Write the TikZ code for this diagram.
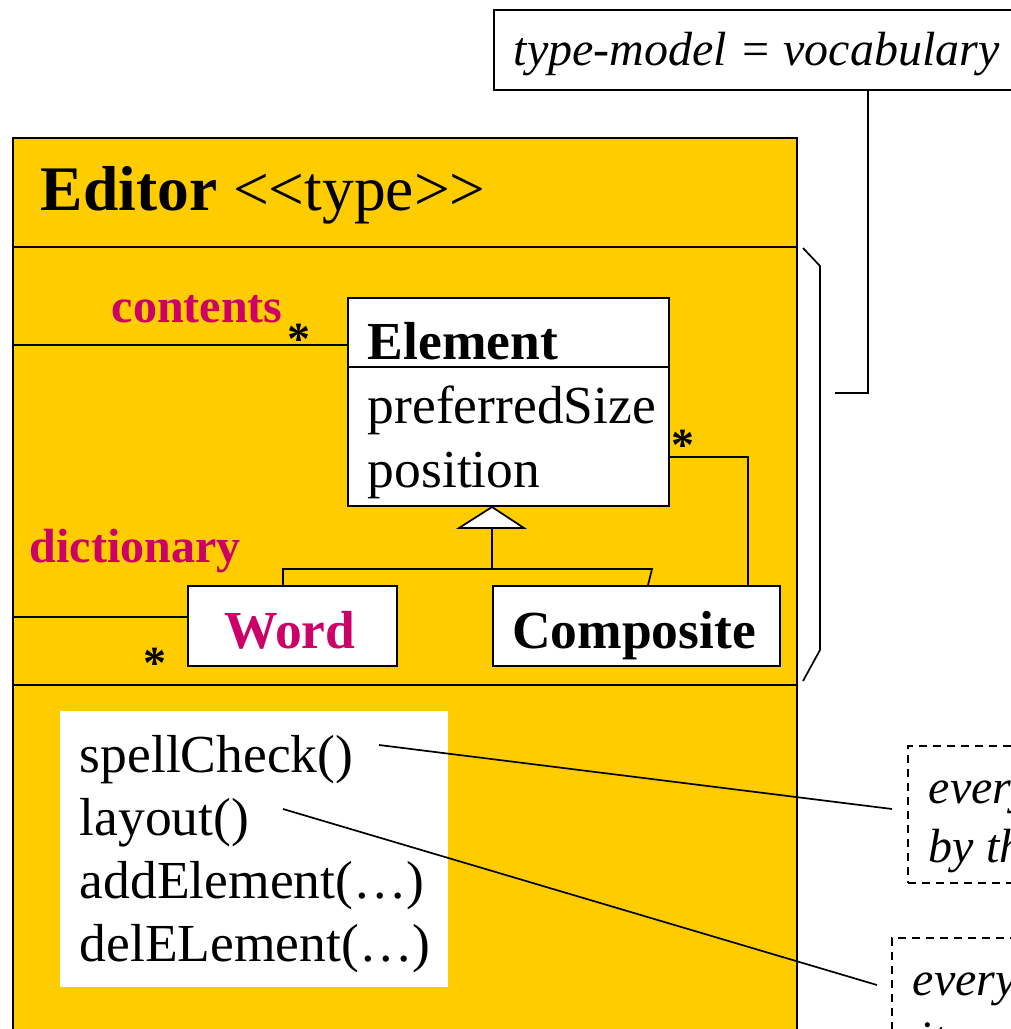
\documentclass[tikz,border=0pt]{standalone}
\usepackage{fontspec}
\setmainfont{Liberation Serif}
\definecolor{editorfill}{HTML}{FFCC00}
\definecolor{rolecol}{HTML}{CC0066}

\begin{document}
\begin{tikzpicture}[x=1pt, y=-1pt, line width=1.7pt,
  box/.style={draw, fill=white, anchor=north west, inner sep=0pt},
  txt/.style={anchor=base west, inner sep=0pt},
  ctxt/.style={anchor=base, inner sep=0pt},
  big/.style={font=\fontsize{63.5}{70}\selectfont},
  body/.style={font=\fontsize{53.5}{60}\selectfont},
  bodyb/.style={font=\fontsize{53.5}{60}\selectfont\bfseries},
  role/.style={font=\fontsize{48}{54}\selectfont\bfseries, text=rolecol},
  mult/.style={font=\fontsize{46}{52}\selectfont\bfseries, anchor=base, inner sep=0pt},
  notetext/.style={font=\fontsize{48}{54}\selectfont\itshape, anchor=base west, inner sep=0pt},
  notebox/.style={draw, dash pattern=on 8pt off 6pt, line width=1.5pt, fill=white, anchor=north west, inner sep=0pt}
]
\clip (0,0) rectangle (1011,1029);
\fill[white] (0,0) rectangle (1011,1029);

% type-model note
\node[box, minimum width=600, minimum height=80] (topnote) at (493,9) {};
\node[notetext] (toptext) at (513,65) {type-model = vocabulary};
\coordinate (bend) at (868,393);
\coordinate (tip) at (835,393);
\draw (topnote.south -| bend) -- (bend) -- (tip);

% Editor type box
\node[draw, fill=editorfill, anchor=north west, inner sep=0pt,
      minimum width=784, minimum height=940] (editor) at (12,137) {};
\draw (editor.west |- 0,247) -- (editor.east |- 0,247);
\draw (editor.west |- 0,685) -- (editor.east |- 0,685);
\node[txt, big] (title) at (40,210) {\textbf{Editor} <\kern0pt<type>\kern0pt>};

% bracket for the type-model section
\draw (803,248) -- (820,266) -- (820,650) -- (803,681);

% Element class
\node[box, minimum width=321, minimum height=208] (elem) at (347,297) {};
\draw (elem.west |- 0,367) -- (elem.east |- 0,367);
\node[txt, bodyb] (elname) at (367,359) {Element};
\node[txt, body] (attr1) at (367,423) {preferredSize};
\node[txt, body] (attr2) at (367,487) {position};

% subclasses
\node[box, minimum width=209, minimum height=80] (word) at (187,585) {};
\node[ctxt, bodyb, text=rolecol] (wordtext) at (290,648) {Word};
\node[box, minimum width=287, minimum height=80] (comp) at (492,585) {};
\node[ctxt, bodyb] (comptext) at (634,648) {Composite};

% generalization
\coordinate (apex) at (492,507);
\coordinate (gen) at (492,528);
\draw[fill=white] (apex) -- (524,528) -- (459,528) -- cycle;
\draw (gen) -- (492,569);
\draw (word.north -| 283,0) -- (283,569) -- (652,569) -- (comp.north -| 648,0);

% Composite contains Elements
\draw (comp.north -| 748,0) -- (748,457) -- (elem.east |- 0,457);
\node[mult] (m3) at (683,460) {*};

% contents association
\draw (editor.west |- 0,345) -- (elem.west |- 0,345);
\node[txt, role] (contents) at (111,322) {contents};
\node[mult] (m1) at (299,354) {*};

% dictionary association
\draw (editor.west |- 0,617) -- (word.west |- 0,617);
\node[txt, role] (dict) at (29,562) {dictionary};
\node[mult] (m2) at (155,678) {*};

% operations
\node[fill=white, anchor=north west, inner sep=0pt, minimum width=388, minimum height=276] (ops) at (59,710) {};
\node[txt, body] (op1) at (79,772) {spellCheck()};
\node[txt, body] (op2) at (79,835) {layout()};
\node[txt, body] (op3) at (79,898) {addElement(…)};
\node[txt, body] (op4) at (79,961) {delELement(…)};

% comment notes
\node[notebox, minimum width=200, minimum height=137] (note1) at (907,745) {};
\node[notetext] (n1a) at (928,803) {every};
\node[notetext] (n1b) at (928,862) {by the};
\node[notebox, minimum width=200, minimum height=160] (note2) at (891,937) {};
\node[notetext] (n2a) at (912,995) {every};
\node[notetext] (n2b) at (918,1054) {it};

\coordinate (s1) at (379,745);
\coordinate (e1) at (892,809);
\coordinate (s2) at (283,809);
\coordinate (e2) at (877,985);
\draw (s1) -- (e1);
\draw (s2) -- (e2);
\end{tikzpicture}
\end{document}
